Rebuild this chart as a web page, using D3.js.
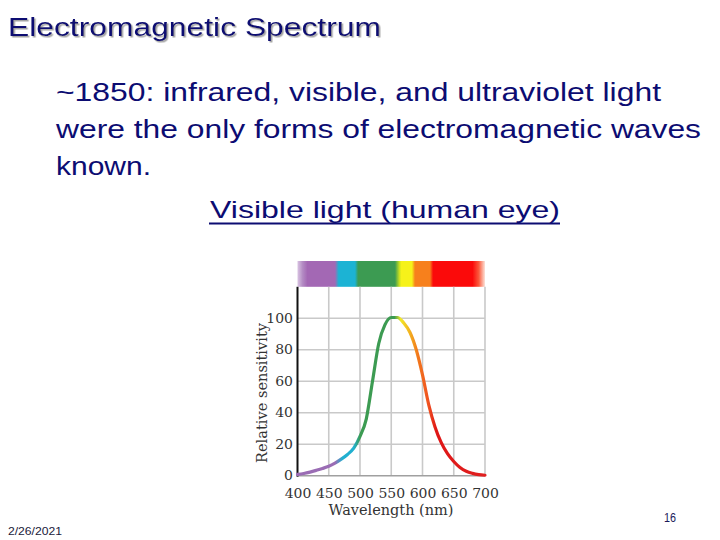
<!DOCTYPE html>
<html>
<head>
<meta charset="utf-8">
<script src="https://cdn.jsdelivr.net/npm/d3@7"></script>
<style>
  html, body { margin: 0; padding: 0; background: #ffffff; }
  svg { display: block; }
</style>
</head>
<body>
<div id="chart"></div>
<script>
// ---- Data ----
const wavelengths = [400,410,420,430,440,450,460,470,480,490,500,510,520,530,540,550,560,570,580,590,600,610,620,630,640,650,660,670,680,690,700];
const sensitivity = [0.8,1.4,2.3,3.4,4.6,6.0,8.0,10.5,13.5,17.5,25,36,60,84,96,100.5,100.5,97,91,80,64,45,31,21,14,9,5.2,2.8,1.5,0.7,0.3];
const xTicks = [400,450,500,550,600,650,700];
const yTicks = [0,20,40,60,80,100];
const xGrid = [450,500,550,600,650,700];
const yGrid = [20,40,60,80,100];
// spectrum strip colour stops (wavelength nm, colour)
const stripStops = [400,408,416,460,466,492,497,556,563,566,583,588,612,617,680,690,700];
const stripColors = ["#d9c4e2","#b48cc4","#a368b4","#a368b4","#1cb3d4","#1cb3d4","#3c9b52","#3c9b52","#c8e020","#f6f21a","#f6f21a","#f7801c","#f7801c","#fb0a0a","#fb0a0a","#fb5a3c","#fde2d8"];
// curve colour stops
const curveStops = [400,460,472,490,500,555,565,580,592,610,622,700];
const curveColors = ["#9a6cb4","#9a6cb4","#22b0d0","#22b0d0","#3c9b52","#3c9b52","#f2e828","#f2b020","#f27a1c","#ef5020","#df1616","#e02020"];
const titleText = "Electromagnetic Spectrum";
const bodyLines = ["~1850: infrared, visible, and ultraviolet light","were the only forms of electromagnetic waves","known."];
const subTitle = "Visible light (human eye)";
const xLabel = "Wavelength (nm)";
const yLabel = "Relative sensitivity";
const dateText = "2/26/2021";
const pageText = "16";

// ---- Layout ----
const W = 720, H = 540;
const svg = d3.select("#chart").append("svg").attr("width", W).attr("height", H);
svg.append("rect").attr("width", W).attr("height", H).attr("fill", "#ffffff");

const defs = svg.append("defs");
const shadow = defs.append("filter").attr("id","tshadow").attr("x","-5%").attr("y","-20%").attr("width","110%").attr("height","150%");
shadow.append("feDropShadow").attr("dx",1.5).attr("dy",1.5).attr("stdDeviation",0.6).attr("flood-color","#9a9a9a").attr("flood-opacity",0.9);

const navy = "#0c0c72";

// Title
svg.append("text").attr("x", 8).attr("y", 36)
  .attr("font-family","'Liberation Sans', Arial, sans-serif").attr("font-size", 25)
  .attr("fill", navy).attr("filter","url(#tshadow)")
  .attr("textLength", 373).attr("lengthAdjust","spacingAndGlyphs")
  .text(titleText);

// Body lines
const bodyY = [101, 138, 175];
const bodyLen = [605, 645, 95];
bodyLines.forEach((t,i) => {
  svg.append("text").attr("x", 56).attr("y", bodyY[i])
    .attr("font-family","'Liberation Sans', Arial, sans-serif").attr("font-size", 26)
    .attr("fill", navy)
    .attr("textLength", bodyLen[i]).attr("lengthAdjust","spacingAndGlyphs")
    .text(t);
});

// Subtitle (underlined)
svg.append("text").attr("x", 210).attr("y", 218)
  .attr("font-family","'Liberation Sans', Arial, sans-serif").attr("font-size", 24)
  .attr("fill", navy)
  .attr("textLength", 350).attr("lengthAdjust","spacingAndGlyphs")
  .text(subTitle);
svg.append("line").attr("x1",209).attr("x2",560).attr("y1",223.5).attr("y2",223.5)
  .attr("stroke", navy).attr("stroke-width",1.8);

// ---- Chart ----
const x = d3.scaleLinear().domain([400,700]).range([297.5,485]);
const y = d3.scaleLinear().domain([0,120]).range([475.7,286.8]);

// strip gradient
const sg = defs.append("linearGradient").attr("id","stripGrad")
  .attr("gradientUnits","userSpaceOnUse")
  .attr("x1", x(400)).attr("x2", x(700)).attr("y1",0).attr("y2",0);
stripStops.forEach((s,i)=> sg.append("stop").attr("offset", (s-400)/300).attr("stop-color", stripColors[i]));
svg.append("rect").attr("x", x(400)).attr("y", 261).attr("width", x(700)-x(400)).attr("height", y(120)-261)
  .attr("fill","url(#stripGrad)");

// grid
const g = svg.append("g");
g.selectAll(".vg").data(xGrid).join("line")
  .attr("x1", d=>x(d)).attr("x2", d=>x(d)).attr("y1", y(120)).attr("y2", y(0))
  .attr("stroke","#c9c9c9").attr("stroke-width",1.6);
g.selectAll(".hg").data(yGrid).join("line")
  .attr("x1", x(400)).attr("x2", x(700)).attr("y1", d=>y(d)).attr("y2", d=>y(d))
  .attr("stroke","#c9c9c9").attr("stroke-width",1.6);
// bottom line
g.append("line").attr("x1", x(400)).attr("x2", x(700)).attr("y1", y(0)).attr("y2", y(0))
  .attr("stroke","#a0a0a0").attr("stroke-width",1.6);

// axes
const serif = "'DejaVu Serif', 'Liberation Serif', serif";
const xAxis = svg.append("g").attr("transform", `translate(0,${y(0)})`)
  .call(d3.axisBottom(x).tickValues(xTicks).tickSize(0).tickPadding(13).tickFormat(d3.format("d")));
xAxis.select(".domain").remove();
xAxis.selectAll("text").attr("font-family", serif).attr("font-size", 12.5).attr("fill","#333")
  .attr("transform","scale(1.12,1)");

const yAxis = svg.append("g").attr("transform", `translate(${x(400)},0)`)
  .call(d3.axisLeft(y).tickValues(yTicks).tickSize(0).tickPadding(4).tickFormat(d3.format("d")));
yAxis.select(".domain").remove();
yAxis.selectAll("text").attr("font-family", serif).attr("font-size", 12.5).attr("fill","#333")
  .attr("transform","scale(1.12,1)");

// left axis line
svg.append("line").attr("x1", x(400)).attr("x2", x(400)).attr("y1", y(120)).attr("y2", y(0)+1)
  .attr("stroke","#111").attr("stroke-width",2);

// axis titles
svg.append("text").attr("x", 391).attr("y", 515).attr("text-anchor","middle")
  .attr("font-family", serif).attr("font-size", 14).attr("fill","#333")
  .attr("textLength",125).attr("lengthAdjust","spacingAndGlyphs")
  .text(xLabel);
svg.append("text").attr("transform","translate(267,393) rotate(-90)").attr("text-anchor","middle")
  .attr("font-family", serif).attr("font-size", 15).attr("fill","#333")
  .attr("textLength",140).attr("lengthAdjust","spacingAndGlyphs")
  .text(yLabel);

// curve gradient
const cg = defs.append("linearGradient").attr("id","curveGrad")
  .attr("gradientUnits","userSpaceOnUse")
  .attr("x1", x(400)).attr("x2", x(700)).attr("y1",0).attr("y2",0);
curveStops.forEach((s,i)=> cg.append("stop").attr("offset", (s-400)/300).attr("stop-color", curveColors[i]));

const pts = wavelengths.map((w,i)=>[w, sensitivity[i]]);
const line = d3.line().x(d=>x(d[0])).y(d=>y(d[1])).curve(d3.curveMonotoneX);
svg.append("path").datum(pts).attr("d", line)
  .attr("fill","none").attr("stroke","url(#curveGrad)").attr("stroke-width",3.2)
  .attr("stroke-linecap","round");

// footer
svg.append("text").attr("x", 8).attr("y", 535)
  .attr("font-family","'Liberation Sans', Arial, sans-serif").attr("font-size", 11)
  .attr("fill","#1a1a3a").attr("textLength",54).attr("lengthAdjust","spacingAndGlyphs")
  .text(dateText);
svg.append("text").attr("x", 664).attr("y", 521.5)
  .attr("font-family","'Liberation Sans', Arial, sans-serif").attr("font-size", 12)
  .attr("fill","#1a1a5a").attr("textLength",12).attr("lengthAdjust","spacingAndGlyphs")
  .text(pageText);
</script>
</body>
</html>
